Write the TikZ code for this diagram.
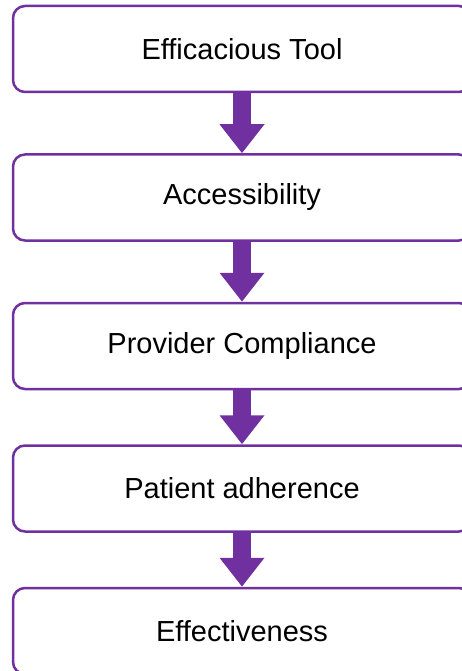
\documentclass[tikz,border=0pt]{standalone}
\usepackage{fontspec}
\setmainfont{Liberation Sans}
\usepackage{xcolor}
\usetikzlibrary{positioning,arrows.meta}
\definecolor{accent}{RGB}{112,48,160}

\begin{document}
\begin{tikzpicture}[
    stage/.style={rectangle, draw=accent, line width=2.5pt, fill=white, minimum width=458pt, minimum height=86pt, rounded corners=12pt, font=\fontsize{29}{34}\selectfont},
    flow/.style={draw=accent, line width=18pt, -{Triangle[width=43pt, length=29pt, fill=accent]}}
]
    \useasboundingbox (0,0) rectangle (461pt,-671pt);
    \node[stage] (tool) at (242pt,-49pt) {Efficacious Tool};
    \node[stage, below=60pt of tool] (access) {Accessibility};
    \node[stage, below=60pt of access] (provider) {Provider Compliance};
    \node[stage, below=54pt of provider] (patient) {Patient adherence};
    \node[stage, below=54pt of patient] (effect) {Effectiveness};

    \draw[flow] (tool.south) -- (access.north);
    \draw[flow] (access.south) -- (provider.north);
    \draw[flow] (provider.south) -- (patient.north);
    \draw[flow] (patient.south) -- (effect.north);
\end{tikzpicture}
\end{document}
